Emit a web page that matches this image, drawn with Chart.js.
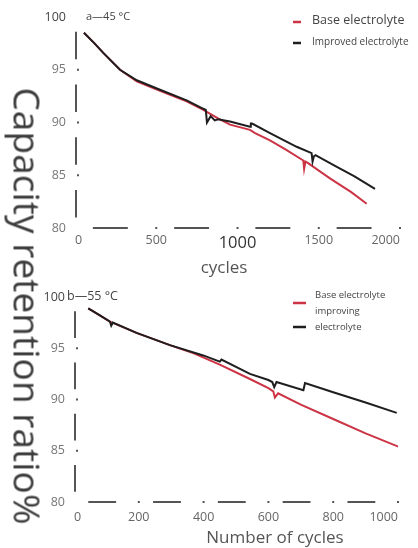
<!DOCTYPE html>
<html>
<head>
<meta charset="utf-8">
<script src="https://cdn.jsdelivr.net/npm/chart.js@4.4.1/dist/chart.umd.min.js"></script>
<style>
  html, body { margin: 0; padding: 0; background: #fff; }
  #wrap { position: relative; width: 418px; height: 548px; overflow: hidden; }
  canvas { position: absolute; left: 0; }
  #topChart { top: 0; }
  #bottomChart { top: 280px; }
  #ytitle {
    position: absolute; left: 28px; top: 306px;
    transform: translate(-50%, -50%) rotate(90deg);
    font-family: 'Open Sans', sans-serif; color: #3c3c3c; white-space: nowrap;
  }
</style>
</head>
<body>
<div id="wrap">
  <canvas id="topChart" width="418" height="280"></canvas>
  <canvas id="bottomChart" width="418" height="268"></canvas>
  <div id="ytitle">Capacity retention ratio%</div>
</div>
<script>
// ---- data ----
const yTicks = [80, 85, 90, 95, 100];
const topXTicks = [0, 500, 1000, 1500, 2000];
const bottomXTicks = [0, 200, 400, 600, 800, 1000];

// a - 45 °C
const topBaseCycles = [55, 120, 174, 277, 380, 523, 687, 790, 880, 954, 1077, 1108, 1200, 1300, 1405, 1410, 1418, 1430, 1569, 1700, 1795];
const topBaseValues = [98.5, 97.5, 96.6, 95.0, 93.9, 93.0, 92.0, 91.2, 90.4, 89.8, 89.3, 89.0, 88.3, 87.4, 86.4, 85.6, 86.3, 86.2, 84.7, 83.4, 82.3];
const topImprovedCycles = [55, 120, 174, 277, 380, 523, 687, 790, 805, 812, 835, 860, 880, 954, 1077, 1082, 1090, 1200, 1364, 1456, 1462, 1470, 1480, 1600, 1720, 1846];
const topImprovedValues = [98.5, 97.5, 96.6, 95.0, 94.0, 93.1, 92.1, 91.3, 91.2, 90.0, 90.6, 90.2, 90.3, 90.1, 89.6, 89.9, 89.9, 89.0, 87.7, 87.1, 86.3, 86.8, 86.9, 85.9, 84.9, 83.7];

// b - 55 °C
const bottomBaseCycles = [44, 111, 193, 296, 370, 450, 543, 600, 615, 620, 630, 700, 800, 900, 1001];
const bottomBaseValues = [98.9, 97.6, 96.5, 95.3, 94.5, 93.4, 92.0, 91.1, 90.8, 90.2, 90.6, 89.5, 88.1, 86.7, 85.4];
const bottomImprovedCycles = [44, 80, 111, 115, 120, 193, 296, 399, 450, 455, 543, 600, 612, 618, 625, 708, 713, 800, 900, 996];
const bottomImprovedValues = [98.9, 98.2, 97.6, 97.2, 97.5, 96.5, 95.3, 94.3, 93.7, 93.9, 92.5, 91.9, 91.7, 91.2, 91.7, 90.9, 91.6, 90.7, 89.7, 88.7];

const RED = '#cc3344';
const BLACK = '#1e1e1e';
const AXIS = '#555';
const FONT = "'Open Sans', sans-serif";

function toPoints(xs, ys) {
  return xs.map((c, i) => ({ x: c, y: ys[i] }));
}

function tickValue(c) {
  return c && c.tick ? c.tick.value : null;
}

// dashed axes, panel label, legend and axis title
const decorPlugin = {
  id: 'decor',
  beforeDatasetsDraw(chart, args, o) {
    const { ctx, chartArea: a, scales } = chart;
    const xs = scales.x, ys = scales.y;
    ctx.save();
    ctx.strokeStyle = AXIS;
    ctx.fillStyle = AXIS;
    ctx.lineWidth = 2;
    for (let i = 0; i < o.xTicks.length - 1; i++) {
      const p0 = xs.getPixelForValue(o.xTicks[i]);
      const p1 = xs.getPixelForValue(o.xTicks[i + 1]);
      ctx.beginPath();
      ctx.moveTo(p0 + (p1 - p0) * 0.22, a.bottom);
      ctx.lineTo(p0 + (p1 - p0) * 0.65, a.bottom);
      ctx.stroke();
    }
    o.xTicks.slice(1).forEach(v => ctx.fillRect(xs.getPixelForValue(v) - 1, a.bottom - 1, 2, 2));
    const yt = yTicks.slice().reverse();
    for (let i = 0; i < yt.length - 1; i++) {
      const p0 = ys.getPixelForValue(yt[i]);
      const p1 = ys.getPixelForValue(yt[i + 1]);
      ctx.beginPath();
      ctx.moveTo(a.left + 1, p0 + (p1 - p0) * 0.28);
      ctx.lineTo(a.left + 1, p0 + (p1 - p0) * 0.8);
      ctx.stroke();
    }
    yTicks.slice(1, -1).forEach(v => ctx.fillRect(a.left + 2, ys.getPixelForValue(v) - 1, 2, 2));
    ctx.restore();
  },
  afterDraw(chart, args, o) {
    const { ctx } = chart;
    ctx.save();
    ctx.textBaseline = 'middle';
    ctx.textAlign = 'left';
    // panel label
    ctx.fillStyle = '#444';
    ctx.font = o.panel.size + 'px ' + FONT;
    ctx.fillText(o.panel.text, o.panel.x, o.panel.y);
    // legend
    o.legend.marks.forEach(m => {
      ctx.strokeStyle = m.color;
      ctx.lineWidth = 2.5;
      ctx.beginPath();
      ctx.moveTo(m.x0, m.y);
      ctx.lineTo(m.x1, m.y);
      ctx.stroke();
    });
    o.legend.texts.forEach(t => {
      ctx.fillStyle = '#444';
      ctx.font = t.size + 'px ' + FONT;
      ctx.fillText(t.text, t.x, t.y);
    });
    // x axis title
    ctx.textAlign = 'center';
    ctx.fillStyle = '#555';
    ctx.font = '17px ' + FONT;
    ctx.fillText(o.title.text, o.title.x, o.title.y);
    ctx.restore();
  }
};

function makeChart(id, cfg) {
  const last = cfg.xTicks[cfg.xTicks.length - 1];
  return new Chart(document.getElementById(id), {
    type: 'line',
    data: {
      datasets: [
        {
          label: 'Improved electrolyte',
          data: toPoints(cfg.impX, cfg.impY),
          borderColor: BLACK, borderWidth: 2, pointRadius: 0, tension: 0, fill: false, order: 0
        },
        {
          label: 'Base electrolyte',
          data: toPoints(cfg.baseX, cfg.baseY),
          borderColor: RED, borderWidth: 2, pointRadius: 0, tension: 0, fill: false, order: 1
        }
      ]
    },
    options: {
      responsive: false,
      animation: false,
      devicePixelRatio: 1,
      layout: { padding: { left: 0, right: cfg.padRight, top: 17, bottom: 0 } },
      plugins: {
        legend: { display: false },
        tooltip: { enabled: false },
        decor: cfg.decor
      },
      scales: {
        x: {
          type: 'linear',
          min: cfg.xTicks[0],
          max: last,
          afterBuildTicks: s => { s.ticks = cfg.xTicks.map(v => ({ value: v })); },
          afterFit: s => { s.height = cfg.xHeight; },
          grid: { display: false, drawTicks: false },
          border: { display: false },
          ticks: {
            align: 'inner',
            autoSkip: false,
            maxRotation: 0,
            padding: cfg.xPad,
            callback: v => String(v),
            font: c => ({ family: FONT, size: (cfg.bigTick === tickValue(c)) ? 16.5 : 12.5 }),
            color: c => (cfg.bigTick === tickValue(c)) ? '#333' : '#666'
          }
        },
        y: {
          min: 80,
          max: 100,
          afterBuildTicks: s => { s.ticks = yTicks.map(v => ({ value: v })); },
          afterFit: s => { s.width = cfg.yWidth; },
          grid: { display: false, drawTicks: false },
          border: { display: false },
          ticks: {
            padding: 9,
            callback: v => String(v),
            font: { family: FONT, size: 12.5 },
            color: c => tickValue(c) === 100 ? '#444' : '#777'
          }
        }
      }
    },
    plugins: [decorPlugin]
  });
}

makeChart('topChart', {
  baseX: topBaseCycles, baseY: topBaseValues,
  impX: topImprovedCycles, impY: topImprovedValues,
  xTicks: topXTicks, bigTick: 1000,
  padRight: 18, yWidth: 75, xHeight: 52, xPad: 5,
  decor: {
    xTicks: topXTicks,
    panel: { text: 'a\u201445 \u00B0C', x: 86, y: 17, size: 11 },
    legend: {
      marks: [
        { color: RED, x0: 293, x1: 301, y: 22 },
        { color: BLACK, x0: 293, x1: 301, y: 43 }
      ],
      texts: [
        { text: 'Base electrolyte', x: 312, y: 20, size: 12.5 },
        { text: 'Improved electrolyte', x: 312, y: 42, size: 10 }
      ]
    },
    title: { text: 'cycles', x: 224, y: 268 }
  }
});

makeChart('bottomChart', {
  baseX: bottomBaseCycles, baseY: bottomBaseValues,
  impX: bottomImprovedCycles, impY: bottomImprovedValues,
  xTicks: bottomXTicks, bigTick: null,
  padRight: 20, yWidth: 74, xHeight: 46, xPad: 8,
  decor: {
    xTicks: bottomXTicks,
    panel: { text: 'b\u201455 \u00B0C', x: 67, y: 16, size: 12.5 },
    legend: {
      marks: [
        { color: RED, x0: 293, x1: 306, y: 23 },
        { color: BLACK, x0: 293, x1: 306, y: 47 }
      ],
      texts: [
        { text: 'Base electrolyte', x: 315, y: 15, size: 9.5 },
        { text: 'improving', x: 315, y: 31, size: 9.5 },
        { text: 'electrolyte', x: 315, y: 47, size: 9.5 }
      ]
    },
    title: { text: 'Number of cycles', x: 275, y: 258 }
  }
});

// fit the big rotated axis title to its length in the reference
const yTitle = document.getElementById('ytitle');
const mctx = document.createElement('canvas').getContext('2d');
mctx.font = "30px 'Open Sans'";
const w = mctx.measureText(yTitle.textContent).width;
yTitle.style.fontSize = (30 * 437 / w).toFixed(1) + 'px';
</script>
</body>
</html>
